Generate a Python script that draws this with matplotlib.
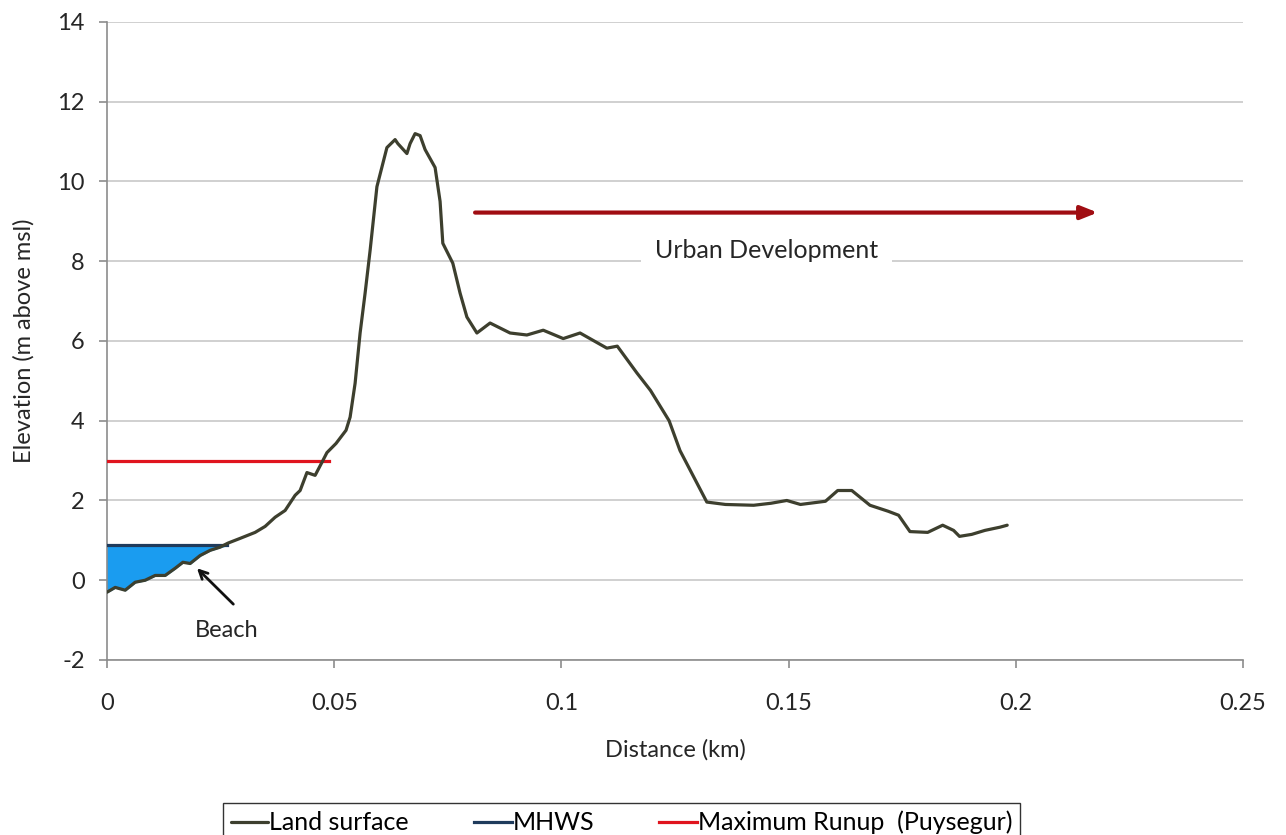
import numpy as np
import matplotlib
matplotlib.use("Agg")
import matplotlib.pyplot as plt

# Land surface profile (distance km, elevation m above msl)
dist_km = [0.0, 0.0018, 0.004, 0.0062, 0.0084, 0.0106, 0.0128, 0.015, 0.0167, 0.0183,
           0.0205, 0.0227, 0.0249, 0.0266, 0.0293, 0.0326, 0.0348, 0.037, 0.0392, 0.0414,
           0.0425, 0.0440, 0.0458, 0.0475, 0.0484, 0.0504, 0.0526, 0.0535, 0.0546, 0.0557,
           0.0568, 0.0579, 0.0594, 0.0616, 0.0634, 0.0640, 0.0660, 0.0667, 0.0678, 0.0689,
           0.0700, 0.0722, 0.0733, 0.0739, 0.0761, 0.0777, 0.0792, 0.0814, 0.0843, 0.0887,
           0.0924, 0.0960, 0.1004, 0.1041, 0.1100, 0.1123, 0.1166, 0.1196, 0.1237, 0.1261,
           0.1320, 0.1361, 0.1423, 0.1461, 0.1496, 0.1526, 0.1581, 0.1608, 0.1639, 0.1679,
           0.1719, 0.1742, 0.1767, 0.1806, 0.1839, 0.1863, 0.1876, 0.1903, 0.1932, 0.1965,
           0.1981]
elev_m = [-0.3, -0.18, -0.25, -0.05, 0.0, 0.12, 0.12, 0.3, 0.45, 0.42,
          0.62, 0.75, 0.83, 0.93, 1.05, 1.2, 1.35, 1.58, 1.75, 2.13,
          2.25, 2.7, 2.63, 3.0, 3.2, 3.43, 3.76, 4.09, 4.94, 6.2,
          7.2, 8.27, 9.87, 10.85, 11.05, 10.95, 10.7, 10.95, 11.2, 11.15,
          10.8, 10.35, 9.5, 8.45, 7.95, 7.2, 6.6, 6.2, 6.45, 6.2,
          6.15, 6.27, 6.06, 6.2, 5.82, 5.87, 5.2, 4.76, 4.0, 3.25,
          1.96, 1.9, 1.88, 1.93, 2.0, 1.9, 1.98, 2.25, 2.25, 1.88,
          1.73, 1.63, 1.22, 1.2, 1.38, 1.25, 1.1, 1.15, 1.25, 1.33,
          1.38]

mhws_level = 0.88
mhws_end = 0.0264
runup_level = 3.0
runup_end = 0.0489

urban_x = [0.081, 0.218]
urban_y = 9.22

land_color = "#3d3f2e"
mhws_color = "#1f3b5c"
runup_color = "#e0141e"
fill_color = "#1a9cf0"
urban_color = "#a00d12"
text_color = "#262626"

plt.rcParams["font.family"] = ["Lato", "DejaVu Sans"]
plt.rcParams["axes.unicode_minus"] = False

fig = plt.figure(figsize=(12.86, 8.35), dpi=100)
ax = fig.add_axes([0.0832, 0.2096, 0.8834, 0.7641])

x = np.array(dist_km)
y = np.array(elev_m)

# water between MHWS and the beach
mask = x <= mhws_end
xf = np.append(x[mask], mhws_end)
yf = np.append(y[mask], mhws_level)
ax.fill_between(xf, yf, mhws_level, color=fill_color, zorder=2)

ax.plot(x, y, color=land_color, lw=2.3, label="Land surface", zorder=4,
        solid_capstyle="round", solid_joinstyle="round")
ax.plot([0, mhws_end], [mhws_level, mhws_level], color=mhws_color, lw=2.3,
        label="MHWS", zorder=3)
ax.plot([0, runup_end], [runup_level, runup_level], color=runup_color, lw=2.3,
        label="Maximum Runup  (Puysegur)", zorder=3)

ax.annotate("", xy=(urban_x[1], urban_y), xytext=(urban_x[0], urban_y),
            arrowprops=dict(arrowstyle="-|>,head_length=1.0,head_width=0.4",
                            color=urban_color, lw=3, shrinkA=0, shrinkB=0),
            zorder=5)
ax.text(0.1452, 8.27, "Urban Development", fontsize=18, color=text_color,
        ha="center", va="center", zorder=5,
        bbox=dict(facecolor="white", edgecolor="none", pad=10))

ax.annotate("", xy=(0.0198, 0.3), xytext=(0.0278, -0.6),
            arrowprops=dict(arrowstyle="->,head_length=0.6,head_width=0.3",
                            color="#111111", lw=2, shrinkA=0, shrinkB=0),
            zorder=5)
ax.text(0.0264, -1.25, "Beach", fontsize=17, color=text_color,
        ha="center", va="center", zorder=5)

ax.set_xlim(0, 0.25)
ax.set_ylim(-2, 14)
ax.set_xticks([0, 0.05, 0.1, 0.15, 0.2, 0.25])
ax.set_xticklabels(["0", "0.05", "0.1", "0.15", "0.2", "0.25"])
ax.set_yticks(range(-2, 15, 2))
ax.yaxis.grid(True, color="#c8c8c8", lw=1.2)
ax.set_axisbelow(True)
for s in ["top", "right"]:
    ax.spines[s].set_visible(False)
for s in ["left", "bottom"]:
    ax.spines[s].set_color("#8c8c8c")
    ax.spines[s].set_linewidth(1.2)
ax.tick_params(axis="both", colors="#8c8c8c", length=6, width=1.2,
               labelsize=17, labelcolor=text_color)
ax.tick_params(axis="x", pad=18)
ax.tick_params(axis="y", pad=10)

ax.set_xlabel("Distance (km)", fontsize=17, color=text_color, labelpad=18)
ax.set_ylabel("Elevation (m above msl)", fontsize=17, color=text_color, labelpad=16)

leg = ax.legend(loc="upper center", bbox_to_anchor=(0.453, -0.205), ncol=3,
                fontsize=18, frameon=True, fancybox=False, handlelength=1.5,
                handletextpad=0.05, columnspacing=2.6, borderpad=0.3)
leg.get_frame().set_edgecolor("#000000")
leg.get_frame().set_linewidth(1.0)

fig.savefig("out.png", dpi=100)
